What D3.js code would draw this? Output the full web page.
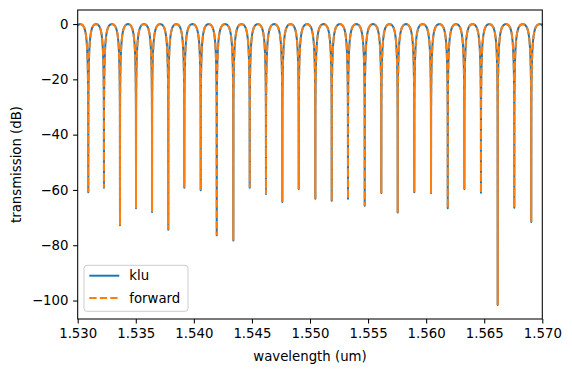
<!DOCTYPE html>
<html>
<head>
<meta charset="utf-8">
<script src="https://cdn.jsdelivr.net/npm/d3@7"></script>
<style>
  body { margin: 0; background: #fff; }
  svg { font-family: "DejaVu Sans", sans-serif; }
</style>
</head>
<body>
<div id="chart"></div>
<script>

const dipWl = [1.53091, 1.53226, 1.53364, 1.53502, 1.53640, 1.53780, 1.53918,
	1.54059, 1.54197, 1.54340, 1.54481, 1.54621, 1.54762, 1.54903, 1.55046,
	1.55187, 1.55327, 1.55471, 1.55614, 1.55755, 1.55898, 1.56042, 1.56186,
	1.56329, 1.56472, 1.56616, 1.56759, 1.56905];
const dipDb = [-60.8, -59.2, -72.8, -66.6, -68.0, -74.4, -59.2, -60.1, -76.4,
	-78.3, -59.2, -61.5, -64.4, -59.7, -63.2, -63.9, -63.2, -65.7, -61.1, -68.2,
	-60.8, -61.1, -66.6, -59.7, -61.0, -101.6, -66.4, -71.6];

// dips just outside the plotted window (only their flanks show)
const edgeWl = [1.52953, 1.57051];
const edgeDb = [-60, -60];

// shape of one arch: distance from a dip (fraction of the dip spacing) and level in dB
const archU  = [0.005, 0.01, 0.02, 0.03, 0.04, 0.06, 0.08, 0.10, 0.13, 0.16, 0.20, 0.25, 0.30, 0.35, 0.40, 0.45, 0.50];
const archDb = [-31.6, -25.6, -19.6, -16.2, -13.7, -10.4, -8.1, -6.4, -4.7, -3.4, -2.3, -1.3, -0.8, -0.4, -0.2, -0.04, 0];

const xTicks = [1.530, 1.535, 1.540, 1.545, 1.550, 1.555, 1.560, 1.565, 1.570];
const yTicks = [0, -20, -40, -60, -80, -100];

const seriesNames = ["klu", "forward"];

// set up
const W = 572, H = 371;
const m = {left: 77.7, right: 542.3, top: 10, bottom: 319};

// build the spectrum from the dips and the arch shape
const wl = [edgeWl[0], ...dipWl, edgeWl[1]];
const db = [edgeDb[0], ...dipDb, edgeDb[1]];
const spectrum = [];
for (let i = 0; i < wl.length; i++) {
	spectrum.push([wl[i], db[i]]);
	if (i === wl.length - 1) break;
	const g = wl[i+1] - wl[i];
	archU.forEach((u, k) => spectrum.push([wl[i] + u*g, archDb[k]]));
	for (let k = archU.length - 2; k >= 0; k--) {
		spectrum.push([wl[i+1] - archU[k]*g, archDb[k]]);
	}
}

const x = d3.scaleLinear().domain([1.530, 1.570]).range([m.left, m.right]);
const yMin = d3.min(dipDb), yMax = 0;
const pad = (yMax - yMin) * 0.05;
const y = d3.scaleLinear().domain([yMin - pad, yMax + pad]).range([m.bottom, m.top]);

const svg = d3.select("#chart").append("svg")
	.attr("width", W)
	.attr("height", H);

svg.append("defs").append("clipPath")
	.attr("id", "clip")
	.append("rect")
	.attr("x", m.left).attr("y", m.top)
	.attr("width", m.right - m.left).attr("height", m.bottom - m.top);

const line = d3.line().x(d => x(d[0])).y(d => y(d[1]));

const plot = svg.append("g").attr("clip-path", "url(#clip)");

plot.append("path")
	.datum(spectrum)
	.attr("d", line)
	.attr("fill", "none")
	.attr("stroke", "#1f77b4")
	.attr("stroke-width", 2)
	.attr("stroke-linejoin", "round");

plot.append("path")
	.datum(spectrum)
	.attr("d", line)
	.attr("fill", "none")
	.attr("stroke", "#ff7f0e")
	.attr("stroke-width", 2)
	.attr("stroke-dasharray", "7.3,3.2");

// axes
const fmtMinus = s => s.replace("-", "\u2212");

const xAxis = svg.append("g")
	.attr("transform", `translate(0,${m.bottom})`)
	.call(d3.axisBottom(x).tickValues(xTicks).tickFormat(d3.format(".3f"))
		.tickSizeOuter(0).tickSize(4.6).tickPadding(4.6));

const yAxis = svg.append("g")
	.attr("transform", `translate(${m.left},0)`)
	.call(d3.axisLeft(y).tickValues(yTicks).tickFormat(d => fmtMinus(String(d)))
		.tickSizeOuter(0).tickSize(4.6).tickPadding(4.6));

[xAxis, yAxis].forEach(a => {
	a.select(".domain").remove();
	a.selectAll(".tick line").attr("stroke", "#000").attr("stroke-width", 1.05);
	a.selectAll(".tick text").attr("fill", "#000").style("font-size", "13.3px")
		.style("font-family", "DejaVu Sans");
});

// frame
svg.append("rect")
	.attr("x", m.left).attr("y", m.top)
	.attr("width", m.right - m.left).attr("height", m.bottom - m.top)
	.attr("fill", "none")
	.attr("stroke", "#000")
	.attr("stroke-width", 1.05);

// labels
svg.append("text")
	.attr("x", (m.left + m.right)/2)
	.attr("y", 361)
	.attr("text-anchor", "middle")
	.style("font-size", "13.3px")
	.text("wavelength (um)");

svg.append("text")
	.attr("transform", `translate(21,${(m.top + m.bottom)/2}) rotate(-90)`)
	.attr("text-anchor", "middle")
	.style("font-size", "13.3px")
	.text("transmission (dB)");

// legend
const lg = svg.append("g").attr("transform", "translate(84,265.3)");
lg.append("rect")
	.attr("width", 104).attr("height", 46)
	.attr("rx", 3)
	.attr("fill", "#fff").attr("fill-opacity", 0.8)
	.attr("stroke", "#cccccc").attr("stroke-width", 1);

const colors = ["#1f77b4", "#ff7f0e"];
const dashes = [null, "7.3,3.2"];
seriesNames.forEach((name, i) => {
	const ly = 10.4 + i*22.3;
	lg.append("line")
		.attr("x1", 5.3).attr("x2", 35.3)
		.attr("y1", ly).attr("y2", ly)
		.attr("stroke", colors[i]).attr("stroke-width", 2)
		.attr("stroke-dasharray", dashes[i]);
	lg.append("text")
		.attr("x", 45.3).attr("y", ly)
		.attr("dy", "0.35em")
		.style("font-size", "13.3px")
		.text(name);
});

</script>
</body>
</html>
